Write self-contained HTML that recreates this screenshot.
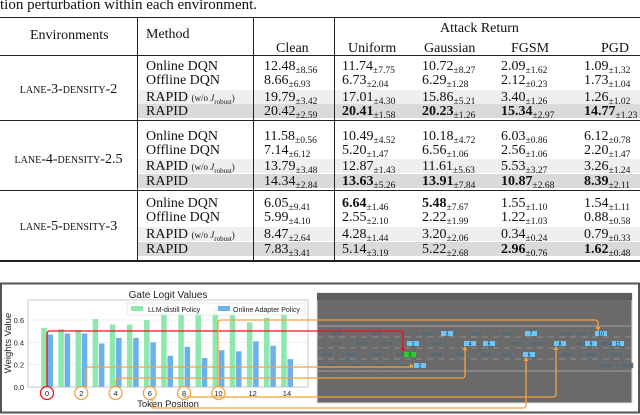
<!DOCTYPE html>
<html><head><meta charset="utf-8">
<style>
html,body{margin:0;padding:0;background:#fff;}
body{width:640px;height:415px;position:relative;overflow:hidden;font-family:"Liberation Serif",serif;color:#111;}
.t{position:absolute;white-space:nowrap;font-size:14px;line-height:14px;}
.sub{font-size:9.5px;position:relative;top:3px;}
.sc{font-variant:small-caps;}
.rule{position:absolute;background:#222;}
.band{position:absolute;left:138px;width:502px;}
svg text{font-family:"Liberation Sans","DejaVu Sans",sans-serif;}
</style></head>
<body>
<div class="t" style="left:0;top:-2px;font-size:15px;">tion perturbation within each environment.</div>
<div id="table">
<div class="rule" style="left:0;top:17px;width:640px;height:1px;"></div>
<div class="rule" style="left:0;top:55px;width:640px;height:1px;"></div>
<div class="rule" style="left:0;top:120px;width:640px;height:1px;"></div>
<div class="rule" style="left:0;top:190px;width:640px;height:1px;"></div>
<div class="rule" style="left:0;top:260px;width:640px;height:2px;"></div>
<div class="rule" style="left:137px;top:17px;width:1px;height:244px;"></div>
<div class="rule" style="left:253px;top:17px;width:1px;height:244px;"></div>
<div class="rule" style="left:334px;top:17px;width:1px;height:244px;"></div>
<div class="t" style="left:30px;top:29px;">Environments</div>
<div class="t" style="left:146px;top:28px;">Method</div>
<div class="t" style="left:440px;top:22px;">Attack Return</div>
<div class="t" style="left:276px;top:42px;">Clean</div>
<div class="t" style="left:348px;top:42px;">Uniform</div>
<div class="t" style="left:424px;top:42px;">Gaussian</div>
<div class="t" style="left:511px;top:42px;">FGSM</div>
<div class="t" style="left:601px;top:42px;">PGD</div>
</div>
<svg id="fig" width="640" height="415" style="position:absolute;left:0;top:0"></svg>
<script>
// ---- table data ----
const envs=["lane-3-density-2","lane-4-density-2.5","lane-5-density-3"];
const methods=["Online DQN","Offline DQN","RAPID","RAPID"];
const rowY=[66,80,97,111,136,150,166,181,203,217,234,249];
const cells=[
[["12.48","8.56"],["11.74","7.75"],["10.72","8.27"],["2.09","1.62"],["1.09","1.32"]],
[["8.66","6.93"],["6.73","2.04"],["6.29","1.28"],["2.12","0.23"],["1.73","1.04"]],
[["19.79","3.42"],["17.01","4.30"],["15.86","5.21"],["3.40","1.26"],["1.26","1.02"]],
[["20.42","2.59"],["20.41","1.58",1],["20.23","1.26",1],["15.34","2.97",1],["14.77","1.23",1]],
[["11.58","0.56"],["10.49","4.52"],["10.18","4.72"],["6.03","0.86"],["6.12","0.78"]],
[["7.14","6.12"],["5.20","1.47"],["6.56","1.06"],["2.56","1.06"],["2.20","1.47"]],
[["13.79","3.48"],["12.87","1.43"],["11.61","5.63"],["5.53","3.27"],["3.26","1.24"]],
[["14.34","2.84"],["13.63","5.26",1],["13.91","7.84",1],["10.87","2.68",1],["8.39","2.11",1]],
[["6.05","9.41"],["6.64","1.46",1],["5.48","7.67",1],["1.55","1.10"],["1.54","1.11"]],
[["5.99","4.10"],["2.55","2.10"],["2.22","1.99"],["1.22","1.03"],["0.88","0.58"]],
[["8.47","2.64"],["4.28","1.44"],["3.20","2.06"],["0.34","0.24"],["0.79","0.33"]],
[["7.83","3.41"],["5.14","3.19"],["5.22","2.68"],["2.96","0.76",1],["1.62","0.48",1]]
];
const colX=[264,342,422,501,584];
const tb=document.getElementById('table');
for(let i=0;i<12;i++){
  const y=rowY[i];const m=i%4;
  if(m>=2){
    const b=document.createElement('div');b.className='band';
    
    
    b.style.top=(y-7)+'px';b.style.height='14px';
    b.style.background=m===2?'#efefef':'#dadada';
    tb.insertBefore(b,tb.firstChild);
  }
  const md=document.createElement('div');md.className='t';
  
  
  md.style.left='146px';md.style.top=(y-6)+'px';
  md.innerHTML=methods[m]+(m===2?' <span style="font-size:9px">(w/o <i>J</i><sub style="font-size:7px">robust</sub>)</span>':'');
  tb.appendChild(md);
  for(let c=0;c<5;c++){
    const v=cells[i][c];const d=document.createElement('div');d.className='t';
    
    
    d.style.left=colX[c]+'px';d.style.top=(y-6)+'px';
    d.innerHTML=(v[2]?'<b>'+v[0]+'</b>':v[0])+'<span class="sub">±'+v[1]+'</span>';
    tb.appendChild(d);
  }
}
for(let g=0;g<3;g++){
  const d=document.createElement('div');d.className='t sc';
  
  
  d.style.left='0px';d.style.width='137px';d.style.textAlign='center';
  d.style.top=(rowY[g*4+1]+3)+'px';
  d.textContent=envs[g];tb.appendChild(d);
}

// ---- chart data ----
const tokens=[0,1,2,3,4,5,6,7,8,9,10,11,12,13,14];
const distillVals=[0.53,0.52,0.51,0.61,0.56,0.56,0.60,0.70,0.70,0.70,0.70,0.70,0.58,0.62,0.70];
const adapterVals=[0.47,0.48,0.48,0.39,0.44,0.44,0.40,0.28,0.36,0.26,0.33,0.32,0.41,0.37,0.25];
const yTicks=[0.0,0.2,0.4,0.6];
const xTicks=[0,2,4,6,8,10,12,14];

const NS='http://www.w3.org/2000/svg';
const svg=document.getElementById('fig');
function el(tag,attrs,parent){const e=document.createElementNS(NS,tag);for(const k in attrs)e.setAttribute(k,attrs[k]);(parent||svg).appendChild(e);return e;}
const X0=28,X1=308,Y0=300,Y1=387;
const xs=t=>47+17.14*t;
const ys=v=>Y1-111.5*v;

let e=el('rect',{x:1,y:283.5,width:638,height:129,fill:'#fff',stroke:'#555','stroke-width':2});


e=el('text',{x:168,y:298,'font-size':10,'text-anchor':'middle',fill:'#222'});e.textContent='Gate Logit Values';


yTicks.forEach(v=>{
  const g=el('line',{x1:X0,x2:X1,y1:ys(v),y2:ys(v),stroke:'#e6e6e6','stroke-width':0.6});
  
  
  const t=el('text',{x:X0-4,y:ys(v)+3,'font-size':7.5,'text-anchor':'end',fill:'#222'});t.textContent=v.toFixed(1);
  
  
});
const clip=el('clipPath',{id:'pc'});el('rect',{x:X0,y:Y0,width:X1-X0,height:Y1-Y0},clip);
const bars=el('g',{'clip-path':'url(#pc)'});
tokens.forEach((t,i)=>{
  const g=el('rect',{x:xs(t)-5.8,y:ys(distillVals[i]),width:5.5,height:Y1-ys(distillVals[i]),fill:'#8de8ae'},bars);
  
  
  const b=el('rect',{x:xs(t)+0.5,y:ys(adapterVals[i]),width:5.5,height:Y1-ys(adapterVals[i]),fill:'#6cb0ee'},bars);
  
  
});
e=el('rect',{x:X0,y:Y0,width:X1-X0,height:Y1-Y0,fill:'none',stroke:'#bbb','stroke-width':0.8});


xTicks.forEach(t=>{
  const l=el('text',{x:xs(t),y:396,'font-size':7.5,'text-anchor':'middle',fill:'#222'});l.textContent=t;
  
  
});
e=el('text',{x:168,y:407,'font-size':9.5,'text-anchor':'middle',fill:'#222'});e.textContent='Token Position';


e=el('text',{x:11,y:343,'font-size':9.5,'text-anchor':'middle',fill:'#222',transform:'rotate(-90 11 343)'});e.textContent='Weights Value';


const lg=el('g',{});


el('rect',{x:127,y:303,width:178,height:12,fill:'#fff','fill-opacity':0.85,stroke:'#ddd','stroke-width':0.6},lg);
el('rect',{x:131,y:306,width:12,height:5,fill:'#8de8ae'},lg);
e=el('text',{x:148,y:312,'font-size':7,fill:'#222'},lg);e.textContent='LLM-distill Policy';


el('rect',{x:218,y:306,width:12,height:5,fill:'#6cb0ee'},lg);
e=el('text',{x:233,y:312,'font-size':7,fill:'#222'},lg);e.textContent='Online Adapter Policy';



// road panel
e=el('rect',{x:317,y:293,width:315,height:110,fill:'#6a6a6a',stroke:'#ddd','stroke-width':1});


el('rect',{x:317,y:293,width:315,height:7,fill:'#5e5e5e'});
el('line',{x1:317,x2:632,y1:326,y2:326,stroke:'#a0a0a0','stroke-width':1});
el('line',{x1:317,x2:632,y1:371,y2:371,stroke:'#a0a0a0','stroke-width':1});
[337,348,359].forEach(y=>el('line',{x1:317,x2:632,y1:y,y2:y,stroke:'#9a9a9a','stroke-width':0.8,'stroke-dasharray':'6 5'}));
[[330,331],[370,331],[470,331],[500,331],[560,331],[575,331],[420,331],
 [330,341],[355,341],[380,341],[430,341],[510,341],[530,341],[575,341],[600,341],
 [320,352],[345,352],[370,352],[395,352],[430,352],[455,352],[480,352],[500,352],[560,352],[585,352],[610,352],
 [325,363],[350,363],[375,363],[395,363],[600,363],[620,363]].forEach(p=>el('rect',{x:p[0],y:p[1],width:13,height:5,fill:'#5c6870',stroke:'#7a7a7a','stroke-width':0.5}));
const cars=[["3",441,331],["7",525,331],["10",595,331],["1",407,341],["4",464,341],["5",483,341],["8",554,341],["9",585,341],["11",612,341],["0",404,352],["6",523,352],["2",414,363]];
cars.forEach(c=>{
  const r=el('rect',{x:c[1],y:c[2],width:12,height:5,fill:c[0]==='0'?'#2ecc2e':'#6ec6f7'});
  
  
  const t=el('text',{x:c[1]+6,y:c[2]+4.5,'font-size':5,'text-anchor':'middle',fill:'#111'});t.textContent=c[0];
});
const OR='#f5a142',RD='#e8141e';
function path(d,col,name){const p=el('path',{d:d,fill:'none',stroke:col,'stroke-width':1.3});}
function head(x,y,dir,col){let pts;
 if(dir==='d')pts=`${x-2.5},${y-4} ${x+2.5},${y-4} ${x},${y}`;
 else if(dir==='u')pts=`${x-2.5},${y+4} ${x+2.5},${y+4} ${x},${y}`;
 else pts=`${x-4},${y-2.5} ${x-4},${y+2.5} ${x},${y}`;
 el('polygon',{points:pts,fill:col});}
path(`M47,387 V334 Q47,331 50,331 H400 Q403,331 403,334 V351`,RD,'arrow-token-0');head(403,352,'d',RD);
path(`M218,387 V323 Q218,320 221,320 H595 Q598,320 598,323 V330`,OR,'arrow-token-10');head(598,331,'d',OR);
path(`M86,387 V370 Q86,367 89,367 H413`,OR,'arrow-token-2');head(414,366,'r',OR);
path(`M116,387 V381 Q116,378 119,378 H462 Q465,378 465,375 V347`,OR,'arrow-token-4');head(465,346,'u',OR);
path(`M184,398 V397 H553 Q556,397 556,394 V347`,OR,'arrow-token-8');head(556,346,'u',OR);
path(`M152,398 V408 H523 Q526,408 526,405 V358`,OR,'arrow-token-6');head(526,357,'u',OR);
e=el('circle',{cx:47,cy:393,r:6.5,fill:'none',stroke:RD,'stroke-width':1.3});


[2,4,6,8,10].forEach(t=>{
  const c=el('circle',{cx:xs(t),cy:393,r:6.5,fill:'none',stroke:OR,'stroke-width':1.3});
  
  
});
</script>
</body></html>
